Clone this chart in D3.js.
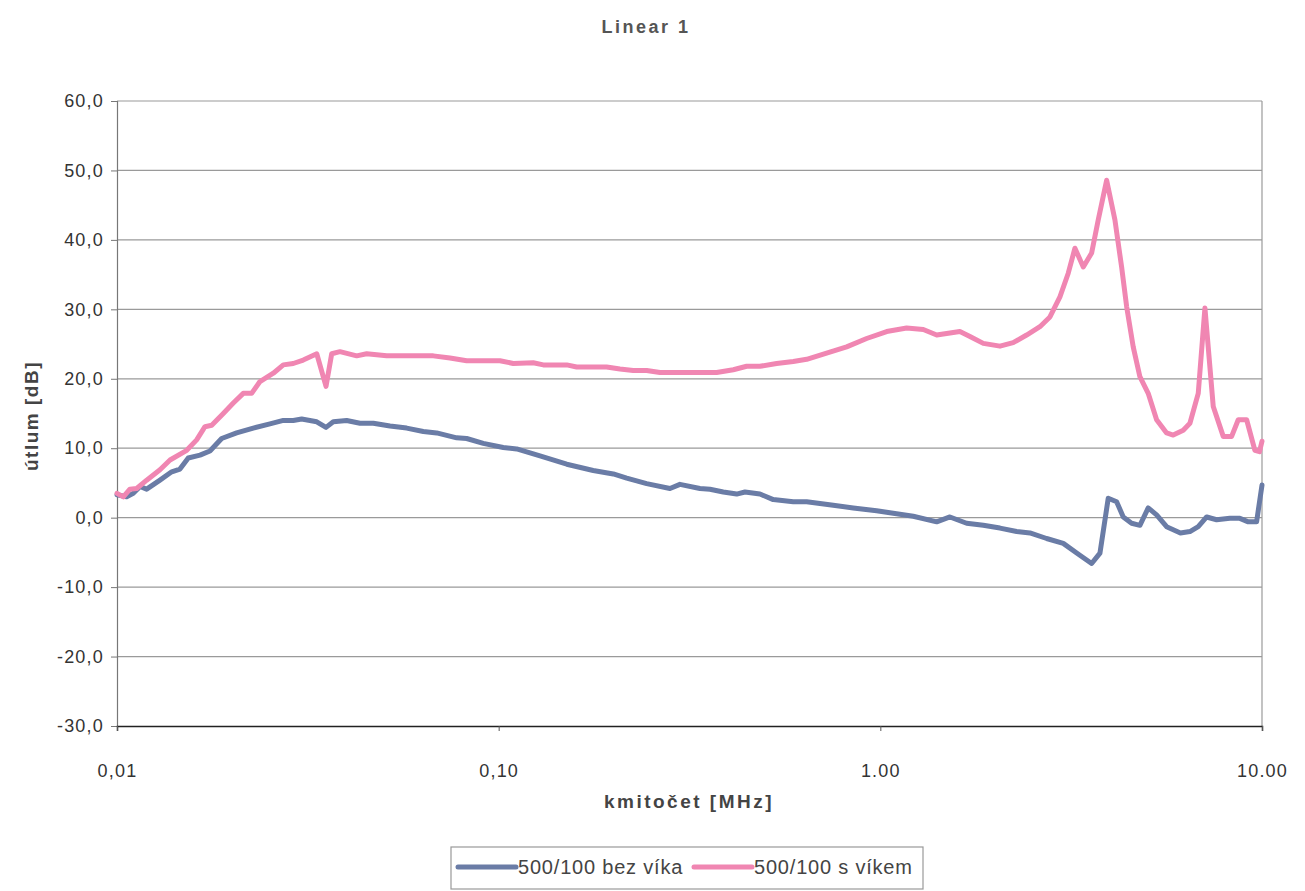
<!DOCTYPE html>
<html>
<head>
<meta charset="utf-8">
<script src="https://cdn.jsdelivr.net/npm/d3@7"></script>
<style>
  body { margin: 0; background: #fff; }
  text { font-family: "Liberation Sans", Arial, sans-serif; }
  .tick text { fill: #333; font-size: 18px; letter-spacing: 1.2px; }
  .axisTitle { font-weight: bold; font-size: 19px; fill: #444; letter-spacing: 2.5px; }
</style>
</head>
<body>
<div class="chart"></div>
<script>
// frequency [MHz] and attenuation [dB]
var freqBez = [0.0100, 0.01060, 0.01103, 0.01149, 0.01196, 0.01296, 0.01391, 0.01462, 0.01537, 0.01650,
  0.01752, 0.01880, 0.02058, 0.02275, 0.02516, 0.02727, 0.02896, 0.03047, 0.03337, 0.03529,
  0.03687, 0.03997, 0.04331, 0.04695, 0.05192, 0.05741, 0.06347, 0.06880, 0.07762, 0.08245,
  0.09114, 0.1028, 0.1115, 0.1283, 0.1508, 0.1769, 0.1997, 0.2165, 0.2442, 0.2811,
  0.2985, 0.3368, 0.3578, 0.3877, 0.4203, 0.4419, 0.4837, 0.5242, 0.5913, 0.6412,
  0.7526, 0.8492, 0.9779, 1.125, 1.220, 1.405, 1.522, 1.683, 1.861, 2.058,
  2.276, 2.466, 2.727, 3.015, 3.269, 3.578, 3.762, 3.955, 4.160, 4.330,
  4.553, 4.787, 5.033, 5.295, 5.624, 6.113, 6.474, 6.807, 7.161, 7.604,
  8.239, 8.751, 9.204, 9.679, 10.0];
var dbBez = [3.3, 3.0, 3.5, 4.5, 4.1, 5.4, 6.6, 7.0, 8.6, 9.0,
  9.6, 11.4, 12.2, 12.9, 13.5, 14.0, 14.0, 14.2, 13.8, 13.0,
  13.8, 14.0, 13.6, 13.6, 13.2, 12.9, 12.4, 12.2, 11.5, 11.4,
  10.7, 10.1, 9.9, 8.9, 7.7, 6.8, 6.3, 5.7, 4.9, 4.2,
  4.8, 4.2, 4.1, 3.7, 3.4, 3.7, 3.4, 2.6, 2.3, 2.3,
  1.8, 1.4, 1.0, 0.5, 0.2, -0.6, 0.1, -0.8, -1.1, -1.5,
  -2.0, -2.2, -3.0, -3.7, -5.1, -6.6, -5.1, 2.8, 2.3, 0.1,
  -0.8, -1.1, 1.4, 0.4, -1.3, -2.2, -2.0, -1.3, 0.1, -0.3,
  -0.1, -0.1, -0.6, -0.6, 4.7];

var freqS = [0.0100, 0.01039, 0.01081, 0.01126, 0.01196, 0.01296, 0.01377, 0.01523, 0.01617, 0.01700,
  0.01771, 0.01899, 0.02017, 0.02142, 0.02253, 0.02369, 0.02568, 0.02727, 0.02896, 0.03076,
  0.03337, 0.03529, 0.03652, 0.03839, 0.04246, 0.04510, 0.05088, 0.06742, 0.07456, 0.08245,
  0.1008, 0.1092, 0.1232, 0.1309, 0.1508, 0.1601, 0.1918, 0.2079, 0.2252, 0.2442,
  0.2646, 0.3725, 0.4118, 0.4464, 0.4837, 0.5350, 0.5913, 0.6412, 0.7232, 0.8160,
  0.9207, 1.039, 1.172, 1.296, 1.405, 1.522, 1.616, 1.717, 1.861, 2.058,
  2.229, 2.417, 2.619, 2.782, 2.955, 3.107, 3.235, 3.402, 3.578, 3.724,
  3.917, 4.117, 4.287, 4.419, 4.598, 4.787, 5.033, 5.295, 5.624, 5.853,
  6.218, 6.474, 6.807, 7.087, 7.452, 7.915, 8.326, 8.665, 9.115, 9.581,
  9.85, 10.0];
var dbS = [3.5, 3.0, 4.1, 4.2, 5.4, 6.9, 8.3, 9.7, 11.2, 13.1,
  13.3, 15.0, 16.5, 17.9, 17.9, 19.6, 20.8, 22.0, 22.2, 22.7,
  23.6, 18.9, 23.6, 23.9, 23.3, 23.6, 23.3, 23.3, 23.0, 22.6,
  22.6, 22.2, 22.3, 22.0, 22.0, 21.7, 21.7, 21.4, 21.2, 21.2,
  20.9, 20.9, 21.3, 21.8, 21.8, 22.2, 22.5, 22.8, 23.7, 24.6,
  25.8, 26.8, 27.3, 27.1, 26.3, 26.6, 26.8, 26.1, 25.1, 24.7,
  25.2, 26.3, 27.5, 28.9, 31.8, 35.2, 38.8, 36.1, 38.1, 42.9,
  48.6, 42.9, 36.1, 30.4, 24.6, 20.3, 17.9, 14.1, 12.2, 11.9,
  12.6, 13.6, 17.9, 30.2, 16.0, 11.7, 11.7, 14.1, 14.1, 9.7,
  9.5, 11.0];

var seriesNames = ["500/100 bez víka", "500/100 s víkem"];
var seriesColors = ["#6a7ca6", "#f086b2"];

var xTicks = [0.01, 0.1, 1, 10];
var xTickLabels = ["0,01", "0,10", "1.00", "10.00"];
var yTicks = [-30, -20, -10, 0, 10, 20, 30, 40, 50, 60];

var svgWidth = 1305;
var svgHeight = 891;

var margin = { top: 101, right: 43, bottom: 165, left: 117 };
var width = svgWidth - margin.left - margin.right;
var height = svgHeight - margin.top - margin.bottom;

var svg = d3.select(".chart")
  .append("svg")
  .attr("width", svgWidth)
  .attr("height", svgHeight);

var chartGroup = svg.append("g")
  .attr("transform", `translate(${margin.left}, ${margin.top})`);

var xScale = d3.scaleLog()
  .domain([0.01, 10])
  .range([0, width]);

var yScale = d3.scaleLinear()
  .domain([-30, 60])
  .range([height, 0]);

// horizontal grid
chartGroup.append("g")
  .selectAll("line")
  .data(yTicks.filter(d => d > -30))
  .enter()
  .append("line")
  .attr("x1", 0)
  .attr("x2", width)
  .attr("y1", d => yScale(d))
  .attr("y2", d => yScale(d))
  .attr("stroke", "#9a9a9a")
  .attr("stroke-width", 1.2);

// right frame line
chartGroup.append("line")
  .attr("x1", width).attr("x2", width)
  .attr("y1", 0).attr("y2", height)
  .attr("stroke", "#9a9a9a")
  .attr("stroke-width", 1.2);

var leftAxis = d3.axisLeft(yScale)
  .tickValues(yTicks)
  .tickSize(6)
  .tickPadding(7)
  .tickFormat(d => d3.format(".1f")(d).replace("−", "-").replace(".", ","));

var bottomAxis = d3.axisBottom(xScale)
  .tickValues(xTicks)
  .tickSize(5)
  .tickPadding(33)
  .tickFormat((d, i) => xTickLabels[i]);

var yAxisG = chartGroup.append("g")
  .call(leftAxis);
yAxisG.select(".domain").attr("stroke", "#777").attr("stroke-width", 1.2);
yAxisG.selectAll(".tick line").attr("stroke", "#777");

var xAxisG = chartGroup.append("g")
  .attr("transform", `translate(0, ${height})`)
  .call(bottomAxis);
xAxisG.select(".domain").attr("stroke", "#222").attr("stroke-width", 1.5);
xAxisG.selectAll(".tick line").attr("stroke", "#555");

var line = d3.line()
  .x(d => xScale(d[0]))
  .y(d => yScale(d[1]));

var seriesData = [
  d3.zip(freqBez, dbBez),
  d3.zip(freqS, dbS)
];

chartGroup.selectAll(".series")
  .data(seriesData)
  .enter()
  .append("path")
  .attr("class", "series")
  .attr("d", line)
  .attr("fill", "none")
  .attr("stroke", (d, i) => seriesColors[i])
  .attr("stroke-width", 5)
  .attr("stroke-linejoin", "round")
  .attr("stroke-linecap", "round");

// title
svg.append("text")
  .attr("x", 646)
  .attr("y", 33)
  .attr("text-anchor", "middle")
  .attr("class", "axisTitle")
  .style("font-size", "18px")
  .style("fill", "#555")
  .text("Linear 1");

svg.append("text")
  .attr("transform", `translate(38, 416) rotate(-90)`)
  .attr("text-anchor", "middle")
  .attr("class", "axisTitle")
  .style("letter-spacing", "1.5px")
  .text("útlum [dB]");

svg.append("text")
  .attr("x", 689)
  .attr("y", 808)
  .attr("text-anchor", "middle")
  .attr("class", "axisTitle")
  .text("kmitočet [MHz]");

// legend
var legend = svg.append("g")
  .attr("transform", "translate(451, 847)");

legend.append("rect")
  .attr("width", 472)
  .attr("height", 42)
  .attr("fill", "#fff")
  .attr("stroke", "#999")
  .attr("stroke-width", 1.2);

var legendOffsets = [7, 243];
var legendItem = legend.selectAll(".legendItem")
  .data(seriesNames)
  .enter()
  .append("g")
  .attr("class", "legendItem")
  .attr("transform", (d, i) => `translate(${legendOffsets[i]}, 20)`);

legendItem.append("line")
  .attr("x1", 0)
  .attr("x2", 58)
  .attr("stroke", (d, i) => seriesColors[i])
  .attr("stroke-width", 5)
  .attr("stroke-linecap", "round");

legendItem.append("text")
  .attr("x", 60)
  .attr("y", 7)
  .style("font-size", "20px")
  .style("letter-spacing", "0.8px")
  .style("fill", "#444")
  .text(d => d);
</script>
</body>
</html>
